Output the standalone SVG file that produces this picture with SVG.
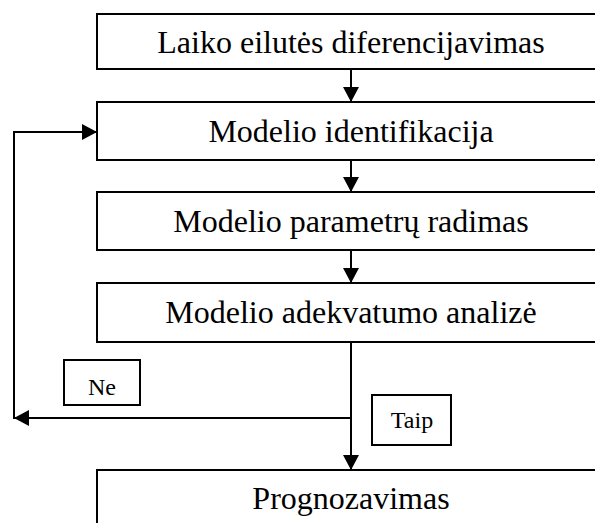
<svg xmlns="http://www.w3.org/2000/svg" width="595" height="523" viewBox="0 0 595 523">
<style>
.box{fill:#fff;stroke:#000;stroke-width:2}
text{font-family:'Liberation Serif','Times New Roman',serif;fill:#000;text-anchor:middle}
.t{font-size:32px}
.s{font-size:24px}
.c{fill:none;stroke:#000;stroke-width:2}
</style>
<defs>
<marker id="ah" markerWidth="16" markerHeight="16" viewBox="0 0 16 16" refX="15" refY="8" orient="auto" markerUnits="userSpaceOnUse">
<path d="M0,0 L15,8 L0,16 Z" fill="#000"/>
</marker>
</defs>
<rect width="595" height="523" fill="#fff"/>
<g id="n1"><rect class="box" x="97" y="14" width="510" height="55"/><text class="t" x="351" y="53">Laiko eilutės diferencijavimas</text></g>
<g id="n2"><rect class="box" x="97" y="102" width="510" height="58"/><text class="t" x="351" y="142">Modelio identifikacija</text></g>
<g id="n3"><rect class="box" x="97" y="192" width="510" height="58"/><text class="t" x="351" y="232">Modelio parametrų radimas</text></g>
<g id="n4"><rect class="box" x="97" y="283" width="510" height="59"/><text class="t" x="351" y="323">Modelio adekvatumo analizė</text></g>
<g id="n5"><rect class="box" x="97" y="470" width="510" height="70"/><text class="t" x="351" y="509">Prognozavimas</text></g>
<g id="ne"><rect class="box" x="64" y="360" width="76" height="45"/><text class="s" x="102" y="395">Ne</text></g>
<g id="taip"><rect class="box" x="372" y="395" width="79" height="50"/><text class="s" x="412" y="428">Taip</text></g>
<g id="connectors">
<line class="c" x1="351" y1="69" x2="351" y2="102" marker-end="url(#ah)"/>
<line class="c" x1="351" y1="160" x2="351" y2="192" marker-end="url(#ah)"/>
<line class="c" x1="351" y1="250" x2="351" y2="283" marker-end="url(#ah)"/>
<line class="c" x1="351" y1="342" x2="351" y2="470" marker-end="url(#ah)"/>
<line class="c" x1="351" y1="418" x2="14" y2="418" marker-end="url(#ah)"/>
<polyline class="c" points="14,419 14,132 97,132" marker-end="url(#ah)"/>
</g>
</svg>
